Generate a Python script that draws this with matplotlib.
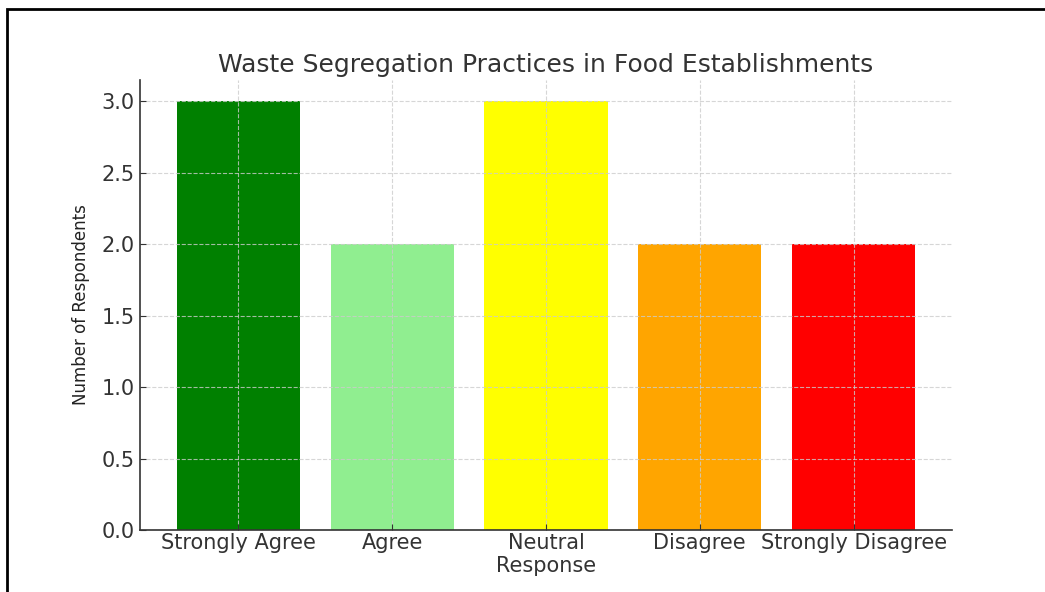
import matplotlib
matplotlib.use("Agg")
from matplotlib import pyplot as plt
from matplotlib.patches import Rectangle

# === Data ===
categories = ["Strongly Agree", "Agree", "Neutral\nResponse", "Disagree", "Strongly Disagree"]
respondents = [3, 2, 3, 2, 2]
bar_colors = ["green", "lightgreen", "yellow", "orange", "red"]

# === Figure ===
fig = plt.figure(figsize=(10.45, 5.92), dpi=100)
ax = fig.add_axes([0.134, 0.1047, 0.777, 0.7603])

ax.bar(categories, respondents, color=bar_colors, width=0.8)

ax.set_title("Waste Segregation Practices in Food Establishments",
             fontsize=18, color="#333333", pad=6)
ax.set_ylabel("Number of Respondents", fontsize=12, color="#222222", labelpad=8)

ax.grid(True, linestyle="--", color="#cccccc", linewidth=0.8, alpha=0.8)
ax.set_yticks([0.0, 0.5, 1.0, 1.5, 2.0, 2.5, 3.0])
ax.set_yticklabels(["0.0", "0.5", "1.0", "1.5", "2.0", "2.5", "3.0"])
ax.tick_params(direction="in", labelsize=15, colors="#333333", length=4, pad=4)
ax.tick_params(axis="x", pad=2)

for side in ["top", "right"]:
    ax.spines[side].set_visible(False)
for side in ["left", "bottom"]:
    ax.spines[side].set_color("#333333")
    ax.spines[side].set_linewidth(1.2)

# black frame around the figure (right/bottom run off the image)
fig.add_artist(Rectangle((7 / 1045, -0.1), 1.2, 1 - 9 / 592 + 0.1,
                         transform=fig.transFigure, fill=False,
                         edgecolor="black", linewidth=2, clip_on=False))

fig.savefig("out.png", dpi=100)
